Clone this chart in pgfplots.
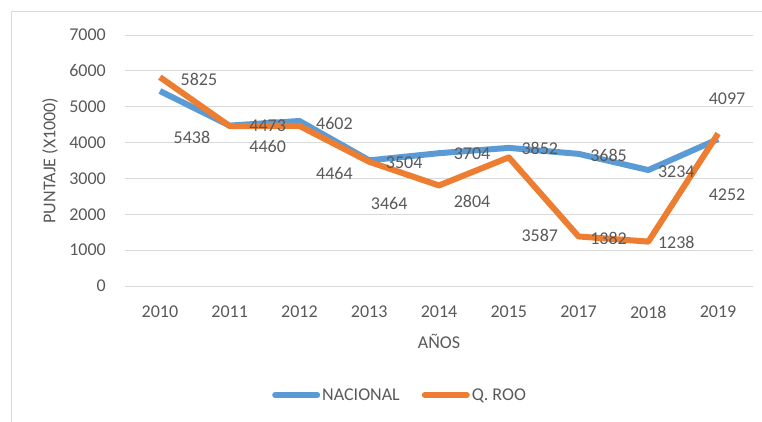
\documentclass[border=0pt]{standalone}
\usepackage{pgfplots}
\pgfplotsset{compat=1.18}
\usepackage{pgfplotstable}
\usepackage{fontspec}
\setmainfont{Carlito}
\definecolor{txt}{HTML}{595959}
\definecolor{grd}{HTML}{D9D9D9}
\definecolor{bl}{HTML}{5B9BD5}
\definecolor{orn}{HTML}{ED7D31}

\pgfplotstableread{
x y dx dy
0 5438 32 -46
1 4473 38 0
2 4602 35 -2
3 3504 35 -2
4 3704 33 -1
5 3852 31 -1
6 3685 30 -2
7 3234 28 -2
8 4097 9 40
}\nacional
\pgfplotstableread{
x y dx dy
0 5825 39 -2
1 4460 38 -20
2 4464 35 -48
3 3464 20 -42
4 2804 33 -16
5 3587 31 -78
6 1382 30 -2
7 1238 28 -1
8 4252 9 -61
}\qroo

\begin{document}
\begin{tikzpicture}[x=1pt,y=1pt]
\path[use as bounding box] (0,0) rectangle (762,-422);
\draw[grd, line width=1pt] (11,-422) -- (11,-12) -- (762,-12);
\begin{axis}[
  at={(125pt,-286pt)}, anchor=south west,
  scale only axis, width=628pt, height=251pt,
  xmin=-0.5, xmax=8.5, ymin=0, ymax=7000,
  xtick={0,...,8},
  xticklabels={2010,2011,2012,2013,2014,2015,2017,2018,2019},
  ytick={0,1000,...,7000},
  axis line style={draw=none},
  major tick length=0pt,
  ymajorgrids, grid style={grd, line width=1pt},
  font=\fontsize{18}{21}\selectfont,
  every tick label/.append style={text=txt},
  y tick label style={anchor=east, inner sep=0pt, xshift=-19pt},
  x tick label style={anchor=center, inner sep=0pt, yshift=-26pt},
  /pgf/number format/assume math mode=true,
  /pgf/number format/1000 sep={},
  every axis y label/.style={at={(axis description cs:0,0.5)}, xshift=-75pt, rotate=90, anchor=center, text=txt},
  every axis x label/.style={at={(axis description cs:0.5,0)}, anchor=center, yshift=-55pt, text=txt},
  ylabel={PUNTAJE (X1000)},
  xlabel={AÑOS},
  legend columns=2,
  legend style={at={(rel axis cs:0.438,-0.434)}, anchor=center, draw=none, fill=none,
    text=txt, inner sep=0pt,
    /tikz/every even column/.append style={column sep=20pt}},
  legend image code/.code={\draw[#1, line width=6pt, line cap=round] (0pt,0pt) -- (42pt,0pt);},
  nodes near coords,
  point meta=explicit symbolic,
  visualization depends on={\thisrow{dx}\as\dx},
  visualization depends on={\thisrow{dy}\as\dy},
  nodes near coords style={anchor=center, text=txt, inner sep=0pt, xshift=\dx pt, yshift=\dy pt,
    /pgf/number format/assume math mode=true},
  clip=false,
]
\addplot[bl, line width=6pt, line join=round, no markers] table[x=x, y=y, meta=y] {\nacional};
\addlegendentry{NACIONAL}
\addplot[orn, line width=6pt, line join=round, no markers] table[x=x, y=y, meta=y] {\qroo};
\addlegendentry{Q. ROO}
\end{axis}
\end{tikzpicture}
\end{document}
